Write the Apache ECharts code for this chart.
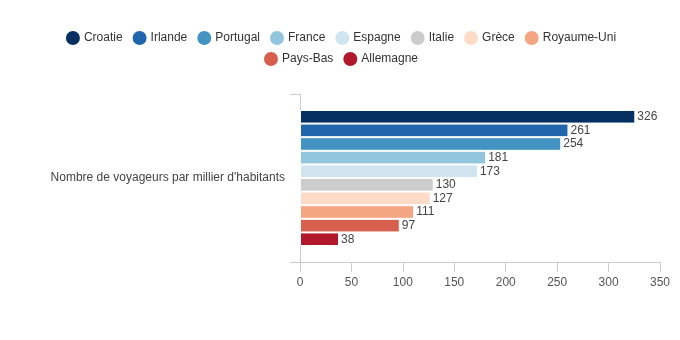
<!DOCTYPE html>
<html><head><meta charset="utf-8">
<script src="https://cdn.jsdelivr.net/npm/echarts@6/dist/echarts.min.js"></script>
<style>html,body{margin:0;padding:0;background:#fff}#c{width:680px;height:340px}</style>
</head><body><div id="c"></div>
<script>
const categories = ["Nombre de voyageurs par millier d'habitants"];
const countries = ["Croatie","Irlande","Portugal","France","Espagne","Italie","Grèce","Royaume-Uni","Pays-Bas","Allemagne"];
const values = [326,261,254,181,173,130,127,111,97,38];
const colors = ["#053061","#2166ac","#4393c3","#92c5de","#d1e5f0","#cccccc","#fddbc7","#f4a582","#d6604d","#b2182b"];
const xTicks = {min:0,max:350,interval:50};
const legendRow1 = countries.slice(0,8);
const legendRow2 = countries.slice(8);

const font = "'Liberation Sans', Arial, Helvetica, sans-serif";
const chart = echarts.init(document.getElementById('c'), null, {renderer:'canvas'});
const legendBase = {left:'center', itemGap:8, itemWidth:16, itemHeight:16, icon:'circle', padding:0,
  textStyle:{fontSize:12,color:'#333',fontFamily:font,padding:[0,0,0,-2]}};
chart.setOption({
  animation:false,
  textStyle:{fontFamily:font},
  legend:[
    Object.assign({top:29,data:legendRow1}, legendBase),
    Object.assign({top:50,data:legendRow2}, legendBase)
  ],
  grid:{left:300,right:20,top:94,bottom:78,containLabel:false},
  xAxis:{type:'value',min:xTicks.min,max:xTicks.max,interval:xTicks.interval,
    axisLine:{show:true,lineStyle:{color:'#ccc'}},
    axisTick:{show:true,length:10,lineStyle:{color:'#ccc'}},
    axisLabel:{color:'#555',fontSize:12,margin:15,fontFamily:font},
    splitLine:{show:false}},
  yAxis:{type:'category',data:categories,inverse:true,
    axisLine:{show:true,lineStyle:{color:'#ccc'}},
    axisTick:{show:true,length:10,lineStyle:{color:'#ccc'}},
    axisLabel:{color:'#444',fontSize:12,margin:15,fontFamily:font}},
  series: countries.map((name,i)=>({
    name, type:'bar', data:[values[i]], barGap:'0%', barCategoryGap:'19%',
    itemStyle:{color:colors[i],borderColor:'#fff',borderWidth:1},
    label:{show:true,position:'right',distance:1,color:'#444',fontSize:12,fontFamily:font,
      backgroundColor:'#fff',padding:[0,1,0,1]}
  }))
});
</script></body></html>
